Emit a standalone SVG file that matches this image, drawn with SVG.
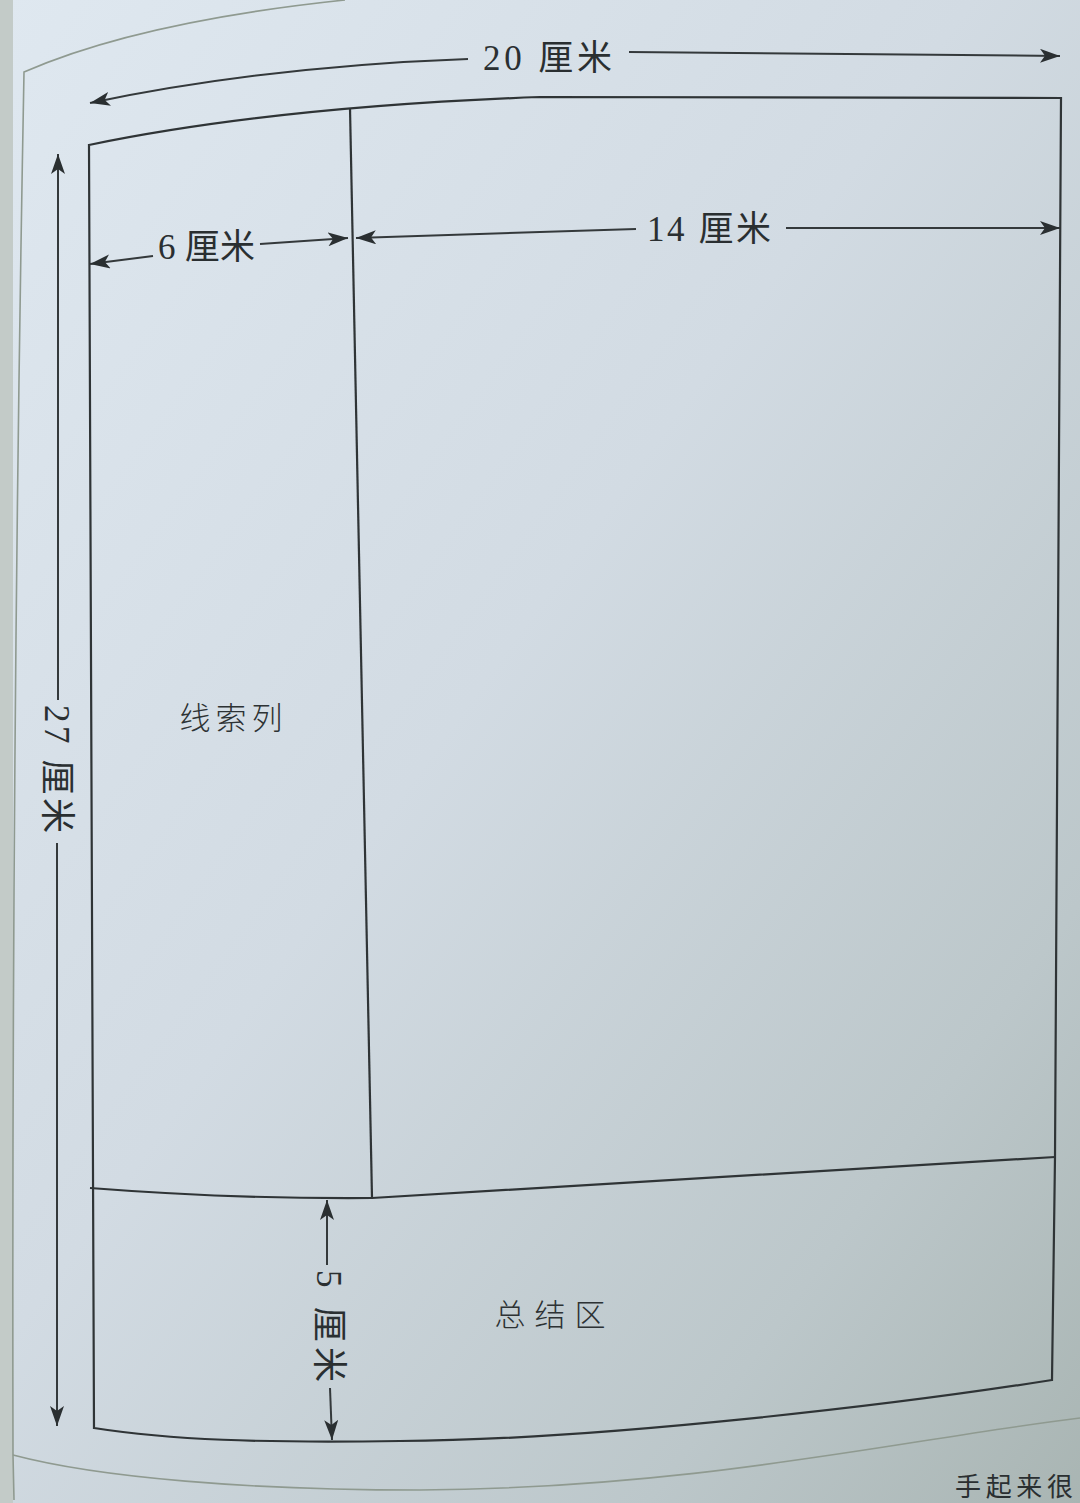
<svg xmlns="http://www.w3.org/2000/svg" width="1080" height="1503" viewBox="0 0 1080 1503">
<defs>
<linearGradient id="bg" x1="0" y1="0" x2="1" y2="1">
<stop offset="0" stop-color="#dfe8f0"/>
<stop offset="0.45" stop-color="#d2dbe3"/>
<stop offset="0.8" stop-color="#bcc7ca"/>
<stop offset="1" stop-color="#a9b5b3"/>
</linearGradient>
<marker id="ah" markerUnits="userSpaceOnUse" markerWidth="24" markerHeight="16" refX="20" refY="7" orient="auto">
<path d="M0,0 L20,7 L0,14 L5,7 Z" fill="#2a2f31"/>
</marker>
<style>
.ln{fill:none;stroke:#2f3436;stroke-width:2.2;stroke-linejoin:miter}
.dim{fill:none;stroke:#34393b;stroke-width:2;marker-end:url(#ah)}
.pg{fill:none;stroke:#8f9a90;stroke-width:1.6}
.t{font-family:"Liberation Serif","Noto Sans CJK SC",serif;font-size:35px;fill:#2a2f31}
.c{font-family:"Noto Sans CJK SC","Liberation Serif",serif;font-size:31px;fill:#2d3234;font-weight:300}
.b{font-family:"Noto Sans CJK SC","Liberation Serif",serif;font-size:26px;fill:#2a2f31}
</style>
</defs>
<rect x="0" y="0" width="1080" height="1503" fill="url(#bg)"/>
<rect x="0" y="0" width="13" height="1503" fill="#c3cbc8"/>
<g id="page-edge">
<path class="pg" d="M14,1500 L13,1455 C12,1000 16,500 24,72 C120,30 250,10 345,0"/>
<path class="pg" d="M13,1455 C100,1478 250,1490 420,1490 C700,1488 900,1440 1080,1418"/>
</g>
<g id="frame">
<path class="ln" d="M89,145 C200,122 350,104 540,97 L1061,98 L1055,1157 L1052,1380 C900,1404 600,1440 400,1441 C260,1443 170,1440 94,1428 C90,1200 88,800 89,145 Z"/>
</g>
<g id="clue-column">
<path class="ln" d="M350,108 Q358,600 372,1198"/>
<text class="c" x="231" y="729" text-anchor="middle" textLength="103" lengthAdjust="spacing">线索列</text>
</g>
<g id="notes-column"></g>
<g id="summary-area">
<path class="ln" d="M90,1188 Q230,1199 372,1198 L1055,1157"/>
<text class="c" x="550" y="1326" text-anchor="middle" textLength="111" lengthAdjust="spacing">总结区</text>
</g>
<g id="connectors">
<path class="dim" d="M468,59 C330,64 200,80 90,103"/>
<path class="dim" d="M629,52 L1060,56"/>
<path class="dim" d="M153,256 L90,264"/>
<path class="dim" d="M260,244 L348,238"/>
<path class="dim" d="M636,229 L356,238"/>
<path class="dim" d="M786,228 L1060,228"/>
<path class="dim" d="M58,700 L58,154"/>
<path class="dim" d="M57,843 L57,1426"/>
<path class="dim" d="M327,1265 L327,1200"/>
<path class="dim" d="M330,1388 L332,1440"/>
</g>
<g id="labels">
<text class="t" x="483" y="70" textLength="129" lengthAdjust="spacing">20 厘米</text>
<text class="t" x="158" y="259" textLength="97" lengthAdjust="spacing">6 厘米</text>
<text class="t" x="647" y="241" textLength="124" lengthAdjust="spacing">14 厘米</text>
<text class="t" transform="translate(45,705) rotate(90)" x="0" y="0" textLength="128" lengthAdjust="spacing">27 厘米</text>
<text class="t" transform="translate(317,1270) rotate(90)" x="0" y="0" textLength="112" lengthAdjust="spacing">5 厘米</text>
<text class="b" x="955" y="1496" textLength="118" lengthAdjust="spacing">手起来很</text>
</g>
</svg>
